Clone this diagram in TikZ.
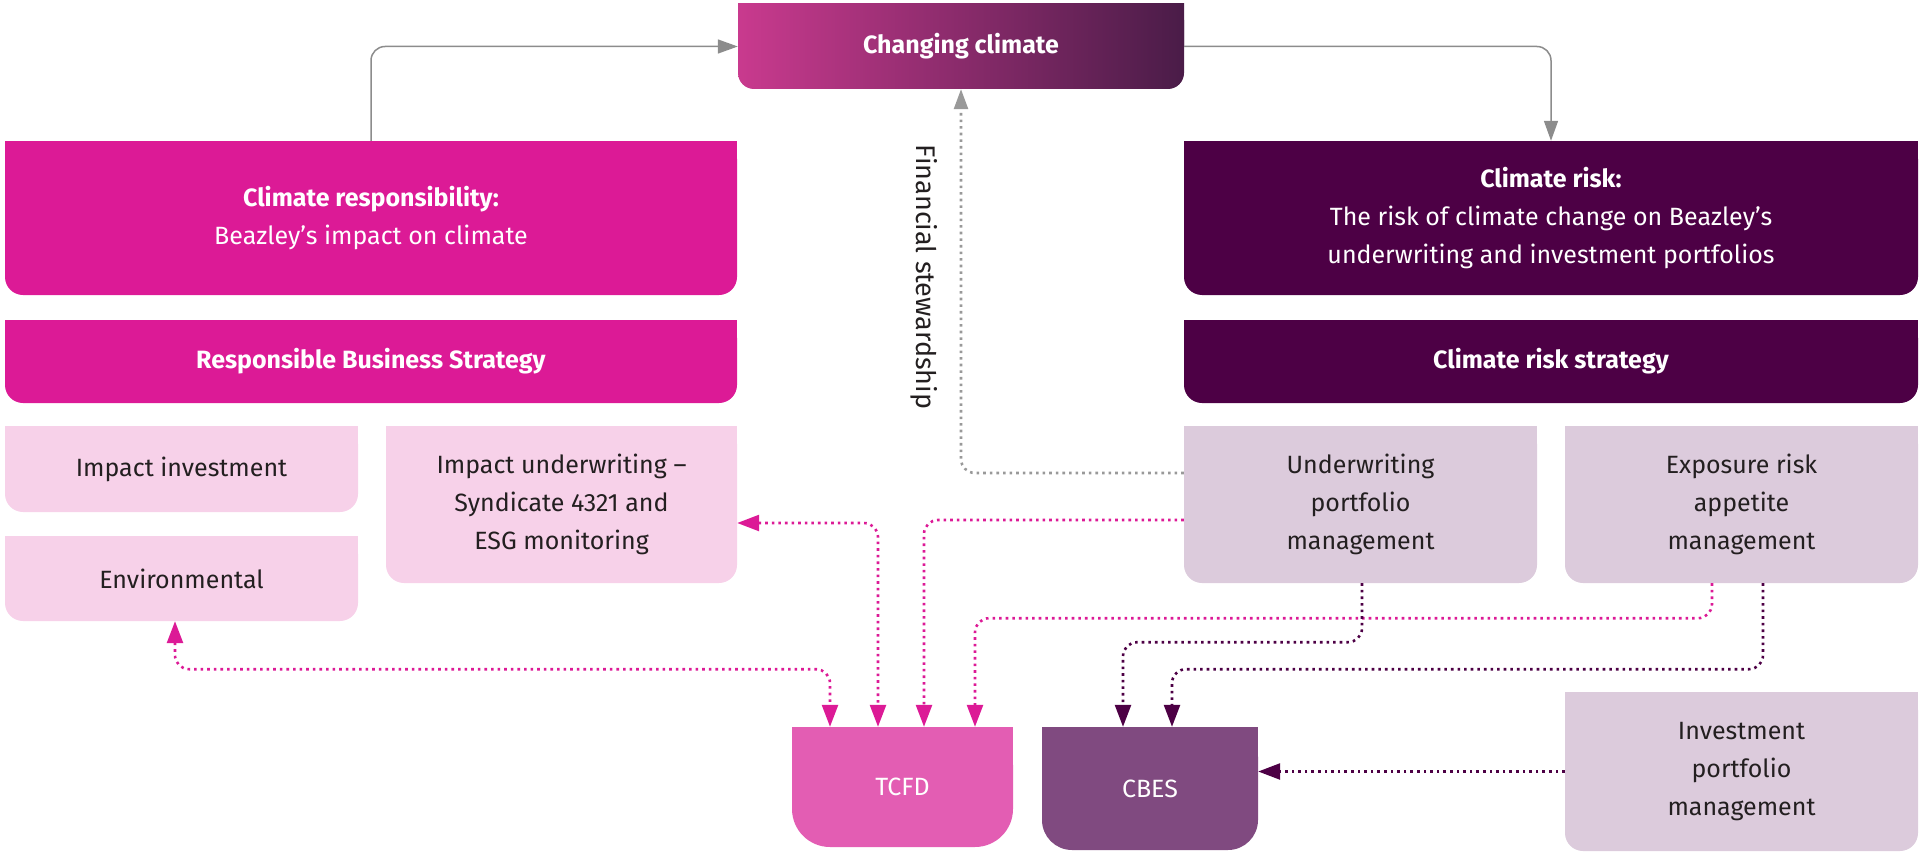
\documentclass[tikz,border=0pt]{standalone}
\usepackage{fontspec}
\setmainfont{Fira Sans}
\usetikzlibrary{arrows.meta,calc}
\definecolor{mag}{HTML}{DC1A96}
\definecolor{dpur}{HTML}{4D0045}
\definecolor{lpink}{HTML}{F7D1E9}
\definecolor{lav}{HTML}{DCCBDC}
\definecolor{tcfdc}{HTML}{E35DB3}
\definecolor{cbesc}{HTML}{804A80}
\definecolor{gl}{HTML}{C93A8E}
\definecolor{gr}{HTML}{4A1C48}
\definecolor{txt}{HTML}{231F20}
\newcommand{\bx}[8]{%
  \fill[#7,rounded corners=#6] (#2,#3) rectangle (#4,#5);
  \fill[#7] (#2,#3) rectangle (#4,{(#3+#5)/2});
  \node[lbl,minimum width={#4-#2},minimum height={#5-#3}] (#1) at ({(#2+#4)/2},{(#3+#5)/2}) {#8};}
\begin{document}
\begin{tikzpicture}[x=1pt,y=-1pt,
  lbl/.style={inner sep=0pt,align=center,font=\fontsize{25}{38}\selectfont},
  gcon/.style={draw=gray!90,line width=1.5pt,rounded corners=14,-{Triangle[length=20pt,width=14pt]}},
  dcon/.style={line width=2.6pt,dash pattern=on 2.6pt off 4pt,rounded corners=14},
  pcon/.style={dcon,draw=mag,-{Triangle[length=22pt,width=16pt]}},
  pcon2/.style={dcon,draw=mag,{Triangle[length=22pt,width=16pt]}-{Triangle[length=22pt,width=16pt]}},
  ucon/.style={dcon,draw=dpur,-{Triangle[length=22pt,width=16pt]}},
  fcon/.style={dcon,draw=gray!80,-{Triangle[length=20pt,width=14pt]}}]
\useasboundingbox (0,0) rectangle (1920,859);
% changing climate (gradient)
\shade[left color=gl,right color=gr,rounded corners=16] (738,4) rectangle (1184,89);
\shade[left color=gl,right color=gr] (738,4) rectangle (1184,46);
\node[lbl,text=white,font=\fontsize{25}{38}\selectfont\bfseries,minimum width=446,minimum height=85] (cc) at (961,46.5) {Changing climate};
\bx{resp}{5}{141}{737}{295}{18}{mag}{\textcolor{white}{\textbf{Climate responsibility:}}\\\textcolor{white}{Beazley’s impact on climate}}
\bx{risk}{1184}{141}{1918}{295}{18}{dpur}{\textcolor{white}{\textbf{Climate risk:}}\\\textcolor{white}{The risk of climate change on Beazley’s}\\\textcolor{white}{underwriting and investment portfolios}}
\bx{rbs}{5}{320}{737}{403}{18}{mag}{\textcolor{white}{\textbf{Responsible Business Strategy}}}
\bx{crs}{1184}{320}{1918}{403}{18}{dpur}{\textcolor{white}{\textbf{Climate risk strategy}}}
\bx{ii}{5}{426}{358}{512}{18}{lpink}{\textcolor{txt}{Impact investment}}
\bx{env}{5}{536}{358}{621}{18}{lpink}{\textcolor{txt}{Environmental}}
\bx{iu}{386}{426}{737}{583}{18}{lpink}{\textcolor{txt}{Impact underwriting –}\\\textcolor{txt}{Syndicate 4321 and}\\\textcolor{txt}{ESG monitoring}}
\bx{up}{1184}{426}{1537}{583}{18}{lav}{\textcolor{txt}{Underwriting}\\\textcolor{txt}{portfolio}\\\textcolor{txt}{management}}
\bx{exp}{1565}{426}{1918}{583}{18}{lav}{\textcolor{txt}{Exposure risk}\\\textcolor{txt}{appetite}\\\textcolor{txt}{management}}
\bx{inv}{1565}{692}{1918}{851}{18}{lav}{\textcolor{txt}{Investment}\\\textcolor{txt}{portfolio}\\\textcolor{txt}{management}}
\bx{tcfd}{792}{727}{1013}{847}{38}{tcfdc}{\textcolor{white}{TCFD}}
\bx{cbes}{1042}{727}{1258}{850}{30}{cbesc}{\textcolor{white}{CBES}}
% connectors
\draw[gcon] (resp.north) |- (cc.west);
\draw[gcon] (cc.east) -| (risk.north);
\draw[fcon] ([yshift=31.5]up.west) -| (cc.south);
\node[lbl,rotate=-90,text=txt,font=\fontsize{27}{32}\selectfont] (fs) at (924,277) {Financial stewardship};
\draw[pcon] ([yshift=-15.5]up.west) -| ([xshift=21.5]tcfd.north);
\draw[pcon2] ([yshift=-18.5]iu.east) -| ([xshift=-24.5]tcfd.north);
\draw[pcon2] ([xshift=-6.5]env.south) -- ++(0,48) -| ([xshift=-72.5]tcfd.north);
\draw[pcon] ([xshift=-29.5]exp.south) -- ++(0,35) -| ([xshift=72.5]tcfd.north);
\draw[ucon] ([xshift=1.5]up.south) -- ++(0,59) -| ([xshift=-27]cbes.north);
\draw[ucon] ([xshift=21.5]exp.south) -- ++(0,86) -| ([xshift=22]cbes.north);
\draw[ucon] (inv.west) -- (inv.west -| cbes.east);
\end{tikzpicture}
\end{document}
